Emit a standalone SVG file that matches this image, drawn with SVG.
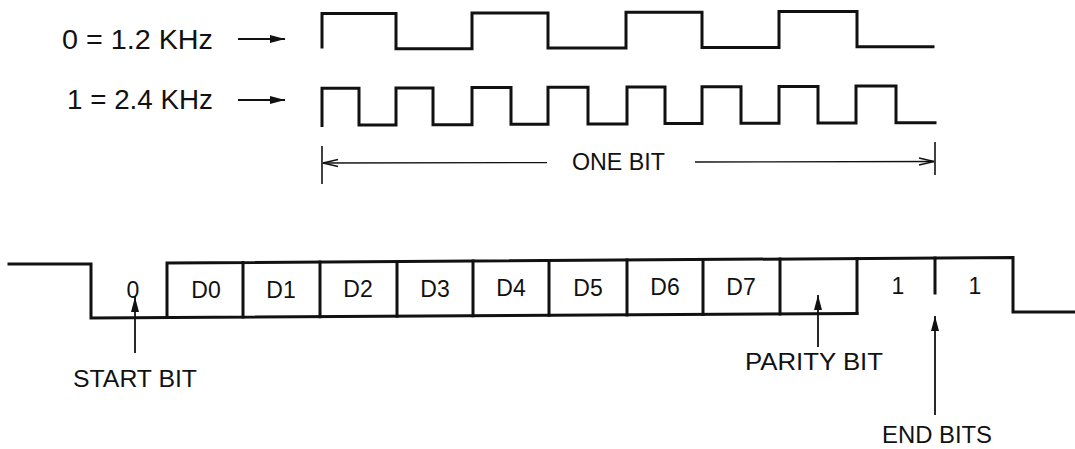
<svg xmlns="http://www.w3.org/2000/svg" width="1075" height="449" viewBox="0 0 1075 449">
  <style>
    .txt { font-family: "Liberation Sans", Arial, Helvetica, sans-serif; fill: #111; }
    .big { font-size: 28px; }
    .mid { font-size: 24px; }
    .cell { font-size: 23px; text-anchor: middle; }
    .wave { fill: none; stroke: #111; stroke-width: 3; stroke-linejoin: miter; stroke-linecap: square; }
    .thin { fill: none; stroke: #111; stroke-width: 1.6; }
    .ptr { fill: none; stroke: #111; stroke-width: 1.8; marker-end: url(#solid); }
    .open { fill: none; stroke: #111; stroke-width: 1.4; }
  </style>
  <defs>
    <marker id="solid" viewBox="0 0 15 8" refX="15" refY="4" markerWidth="15" markerHeight="8" markerUnits="userSpaceOnUse" orient="auto">
      <path d="M0,0 L15,4 L0,8 z" fill="#111"/>
    </marker>
  </defs>

  <rect width="1075" height="449" fill="#ffffff"/>

  <!-- frequency legend -->
  <g id="legend-zero">
    <text class="txt big" x="62" y="49" textLength="151" lengthAdjust="spacingAndGlyphs">0 = 1.2 KHz</text>
  </g>
  <g id="legend-one">
    <text class="txt big" x="67" y="109" textLength="146" lengthAdjust="spacingAndGlyphs">1 = 2.4 KHz</text>
  </g>

  <!-- 1.2 KHz tone: two cycles per bit -->
  <g id="wave-1200">
    <path class="wave" d="M322,47 V13.5 H396 V48.7 H472 V12.9 H548 V48.1 H626 V12.2 H702 V47.4 H779 V11.6 H857 V46.8 H933"/>
  </g>

  <!-- 2.4 KHz tone: four cycles per bit -->
  <g id="wave-2400">
    <path class="wave" d="M322,125.5 V88.3 H359 V125 H396 V88 H433 V124.7 H472 V87.6 H511 V124.3 H548 V87.3 H588 V124 H627 V87 H665 V123.6 H702 V86.7 H741 V123.3 H779 V86.4 H818 V123 H856 V86.1 H896 V122.7 H935"/>
  </g>

  <!-- one-bit dimension -->
  <g id="one-bit">
    <text class="txt mid" x="572" y="170" textLength="93" lengthAdjust="spacingAndGlyphs">ONE BIT</text>
  </g>

  <!-- serial character frame -->
  <g id="frame">
    <!-- idle high, start bit low, data cells -->
    <path class="wave" d="M9,264 H91 V318 L857,313.5"/>
    <path class="wave" d="M167,317.6 V263 L1013,257.5 V312 H1075"/>
    <path class="wave" d="M857,258.5 V313.5"/>
  </g>
  <g id="cells">
    <path class="wave" d="M243,262.5 V317.1 M320,262 V316.7 M397,261.5 V316.2 M473,261 V315.8 M549,260.5 V315.3 M627,260 V314.9 M703,259.5 V314.4 M780,259 V314"/>
    <path class="wave" d="M935,258 V293"/>
  </g>
  <g id="cell-labels">
    <text class="txt cell" x="133" y="298">0</text>
    <text class="txt cell" x="206" y="298">D0</text>
    <text class="txt cell" x="281" y="297.5">D1</text>
    <text class="txt cell" x="358" y="297">D2</text>
    <text class="txt cell" x="435" y="296.5">D3</text>
    <text class="txt cell" x="511" y="296">D4</text>
    <text class="txt cell" x="588" y="295.5">D5</text>
    <text class="txt cell" x="665" y="295">D6</text>
    <text class="txt cell" x="741" y="294.5">D7</text>
    <text class="txt cell" x="898" y="294">1</text>
    <text class="txt cell" x="975" y="293.5">1</text>
  </g>

  <g id="start-bit">
    <text class="txt mid" x="73" y="387" textLength="124" lengthAdjust="spacingAndGlyphs">START BIT</text>
  </g>
  <g id="parity-bit">
    <text class="txt mid" x="745" y="370" textLength="138" lengthAdjust="spacingAndGlyphs">PARITY BIT</text>
  </g>
  <g id="end-bits">
    <text class="txt mid" x="882" y="443" textLength="110" lengthAdjust="spacingAndGlyphs">END BITS</text>
  </g>

  <!-- connectors -->
  <g id="connectors">
    <line class="ptr" x1="238" y1="39" x2="285" y2="39" stroke-width="2"/>
    <line class="ptr" x1="238" y1="100" x2="285" y2="100" stroke-width="2"/>

    <!-- dimension line with open arrowheads and end ticks -->
    <line class="thin" x1="322" y1="146" x2="322" y2="184"/>
    <line class="thin" x1="935" y1="142" x2="935" y2="175"/>
    <line class="open" x1="323" y1="163" x2="547" y2="162.6"/>
    <polyline class="open" points="338,159.5 323,163 338,166.5"/>
    <line class="open" x1="695" y1="162" x2="934" y2="161.5"/>
    <polyline class="open" points="919,158 934,161.5 919,165"/>

    <line class="ptr" x1="135" y1="353" x2="135" y2="297"/>
    <line class="ptr" x1="818" y1="347" x2="818" y2="295"/>
    <line class="ptr" x1="935" y1="415" x2="935" y2="316"/>
  </g>
</svg>
